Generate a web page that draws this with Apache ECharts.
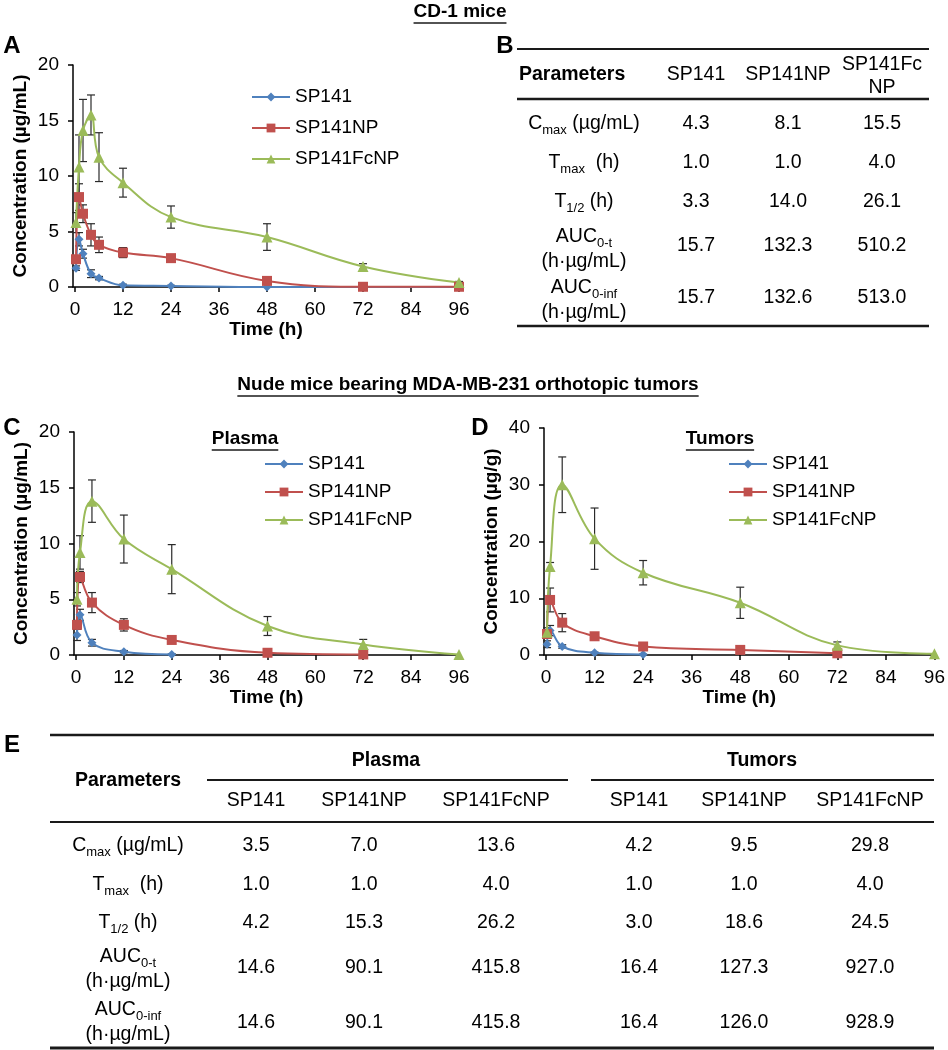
<!DOCTYPE html>
<html><head><meta charset="utf-8">
<script src="https://cdn.jsdelivr.net/npm/echarts@6/dist/echarts.min.js"></script>
<style>html,body{margin:0;padding:0;background:#fff}#c{width:948px;height:1050px}</style>
</head><body><div id="c"></div><script>
// ---------------- DATA ----------------
const seriesNames = ['SP141', 'SP141NP', 'SP141FcNP'];
const xTicks = [0, 12, 24, 36, 48, 60, 72, 84, 96];

// Panel A (CD-1 mice, plasma)
const timeA = [0.25, 1, 2, 4, 6, 12, 24, 48, 72, 96];
const a_sp141 = [1.7, 4.3, 3.0, 1.2, 0.8, 0.15, 0.1, 0, 0, 0];
const a_sp141Err = [0.2, 0.6, 0.4, 0.35, 0.15, 0.1, 0.05, 0, 0, 0];
const a_np = [2.5, 8.1, 6.6, 4.7, 3.8, 3.1, 2.6, 0.55, 0.02, 0.02];
const a_npErr = [0.3, 1.2, 0.8, 1.0, 0.7, 0.45, 0.3, 0.1, 0, 0];
const a_fc = [5.8, 10.8, 14.1, 15.5, 11.7, 9.4, 6.3, 4.5, 1.85, 0.4];
const a_fcErr = [0.9, 2.9, 2.8, 1.8, 2.2, 1.3, 1.0, 1.2, 0.25, 0.1];

// Panel C (nude mice, plasma)
const timeC = [0.25, 1, 4, 12, 24, 48, 72, 96];
const c_sp141 = [1.8, 3.6, 1.1, 0.3, 0.05, null, null, null];
const c_sp141Err = [0.5, 0.5, 0.3, 0.1, 0.05, 0, 0, 0];
const c_np = [2.7, 7.0, 4.7, 2.7, 1.35, 0.2, 0.05, null];
const c_npErr = [0.4, 0.5, 0.9, 0.55, 0.15, 0.1, 0.05, 0];
const c_fc = [5.0, 9.2, 13.8, 10.4, 7.7, 2.6, 0.95, 0.05];
const c_fcErr = [0.6, 1.5, 1.9, 2.15, 2.2, 0.85, 0.45, 0];

// Panel D (nude mice, tumors)
const timeD = [0.25, 1, 4, 12, 24, 48, 72, 96];
const d_sp141 = [1.9, 4.3, 1.5, 0.4, 0.1, null, null, null];
const d_sp141Err = [0.6, 0.9, 0.3, 0.1, 0.05, 0, 0, 0];
const d_np = [3.7, 9.7, 5.7, 3.3, 1.5, 0.9, 0.3, null];
const d_npErr = [0.6, 2.1, 1.6, 0.4, 0.3, 0.2, 0.1, 0];
const d_fc = [4.0, 15.6, 30.0, 20.5, 14.5, 9.2, 1.7, 0.2];
const d_fcErr = [0.8, 0.7, 4.9, 5.4, 2.15, 2.75, 0.6, 0];

// Table B (CD-1 mice)
const tableBHeader = ['SP141', 'SP141NP', 'SP141Fc\nNP'];
const tableParams = [
  '{n|C}{s|max}{n| (µg/mL)}',
  '{n|T}{s|max}{n|  (h)}',
  '{n|T}{s|1/2}{n| (h)}',
  '{n|AUC}{s|0-t}\n{n|(h·µg/mL)}',
  '{n|AUC}{s|0-inf}\n{n|(h·µg/mL)}'
];
const tableB = [
  [4.3, 8.1, 15.5],
  [1.0, 1.0, 4.0],
  [3.3, 14.0, 26.1],
  [15.7, 132.3, 510.2],
  [15.7, 132.6, 513.0]
];
// Table E (nude mice)
const tableEGroups = ['Plasma', 'Tumors'];
const tableEPlasma = [
  [3.5, 7.0, 13.6],
  [1.0, 1.0, 4.0],
  [4.2, 15.3, 26.2],
  [14.6, 90.1, 415.8],
  [14.6, 90.1, 415.8]
];
const tableETumors = [
  [4.2, 9.5, 29.8],
  [1.0, 1.0, 4.0],
  [3.0, 18.6, 24.5],
  [16.4, 127.3, 927.0],
  [16.4, 126.0, 928.9]
];

// ---------------- STYLE / LAYOUT ----------------
const FF = "'Liberation Sans', Arial, sans-serif";
const COLORS = ['#4F81BD', '#C0504D', '#9BBB59'];
const SYMBOLS = ['diamond', 'rect', 'triangle'];
const SYMSIZE = [9, 10, 11];
const FS = 19;
const TFS = 19.5;

function mkX(gi) {
  return {
    type: 'value', gridIndex: gi, min: -0.5, max: 96,
    name: 'Time (h)', nameLocation: 'middle', nameGap: 31,
    nameTextStyle: { fontSize: FS, fontWeight: 'bold', color: '#000', fontFamily: FF },
    axisLine: { show: true, onZero: false, lineStyle: { color: '#000', width: 1.5 } },
    axisTick: { show: true, customValues: xTicks, length: 5, lineStyle: { color: '#000', width: 1.5 } },
    axisLabel: { customValues: xTicks, fontSize: FS, color: '#000', margin: 13, fontFamily: FF },
    splitLine: { show: false }
  };
}
function mkY(gi, max, interval, name) {
  return {
    type: 'value', gridIndex: gi, min: 0, max: max, interval: interval,
    name: name, nameLocation: 'middle', nameGap: 43, nameRotate: 90,
    nameTextStyle: { fontSize: FS, fontWeight: 'bold', color: '#000', fontFamily: FF },
    axisLine: { show: true, onZero: false, lineStyle: { color: '#000', width: 1.5 } },
    axisTick: { show: true, length: 5, lineStyle: { color: '#000', width: 1.5 } },
    axisLabel: { fontSize: FS, color: '#000', margin: 14, fontFamily: FF },
    splitLine: { show: false }
  };
}
function lineSeries(k, times, vals, gi) {
  return {
    type: 'line', name: seriesNames[k], xAxisIndex: gi, yAxisIndex: gi,
    data: times.map((t, i) => vals[i] == null ? null : [t, vals[i]]).filter(Boolean),
    smooth: 0.4, symbol: SYMBOLS[k], symbolSize: SYMSIZE[k], showSymbol: true,
    lineStyle: { color: COLORS[k], width: 2 }, itemStyle: { color: COLORS[k] }, z: 3
  };
}
function errSeries(k, times, vals, errs, gi) {
  const data = times.map((t, i) => (vals[i] == null || !errs[i]) ? null : [t, Math.max(0, vals[i] - errs[i]), vals[i] + errs[i]]).filter(Boolean);
  return {
    type: 'custom', name: seriesNames[k] + '-err-' + gi, xAxisIndex: gi, yAxisIndex: gi, z: 2, silent: true,
    data: data, encode: { x: 0, y: [1, 2] },
    renderItem: function (params, api) {
      const x = api.value(0);
      const lo = api.coord([x, api.value(1)]);
      const hi = api.coord([x, api.value(2)]);
      const w = 4;
      const st = { stroke: '#2a2a2a', lineWidth: 1.2 };
      return { type: 'group', children: [
        { type: 'line', shape: { x1: lo[0], y1: lo[1], x2: hi[0], y2: hi[1] }, style: st },
        { type: 'line', shape: { x1: lo[0] - w, y1: lo[1], x2: lo[0] + w, y2: lo[1] }, style: st },
        { type: 'line', shape: { x1: hi[0] - w, y1: hi[1], x2: hi[0] + w, y2: hi[1] }, style: st }
      ] };
    }
  };
}
function mkLegend(left, top, gap) {
  return {
    data: seriesNames, left: left, top: top, orient: 'vertical',
    itemWidth: 38, itemHeight: 11, itemGap: gap, selectedMode: false,
    textStyle: { fontSize: FS, color: '#000', fontFamily: FF, lineHeight: 22 }
  };
}

// ---------------- GRAPHIC (titles + tables) ----------------
const g = [];
const measureCtx = document.createElement('canvas').getContext('2d');
function txt(x, y, text, o) {
  o = o || {};
  g.push({ type: 'text', x: x, y: y, silent: true, style: {
    text: text, fill: '#000', fontFamily: FF, fontSize: o.size || TFS, fontWeight: o.bold ? 'bold' : 'normal',
    align: o.align || 'center', verticalAlign: 'middle', lineHeight: o.lh || 23, rich: o.rich
  } });
}
function hline(x1, x2, y, w) {
  g.push({ type: 'line', silent: true, shape: { x1: x1, y1: y, x2: x2, y2: y }, style: { stroke: '#1a1a1a', lineWidth: w } });
}
function underlined(x, y, text, size) {
  txt(x, y, text, { bold: true, size: size });
  measureCtx.font = 'bold ' + size + 'px ' + FF;
  const w = measureCtx.measureText(text).width;
  hline(x - w / 2, x + w / 2, y + size * 0.58, 1.5);
}
const richParam = {
  n: { fontSize: TFS, fontFamily: FF, lineHeight: 22 },
  s: { fontSize: 13, fontFamily: FF, lineHeight: 13, padding: [13, 0, 0, 0] }
};
function paramLabel(x, ys, k) {
  const lines = tableParams[k].split('\n');
  lines.forEach((ln, j) => txt(x, ys[j], ln, { rich: richParam }));
}

// headings
underlined(460, 12, 'CD-1 mice', FS);
underlined(468, 385, 'Nude mice bearing MDA-MB-231 orthotopic tumors', FS);
underlined(245, 439, 'Plasma', FS);
underlined(720, 439, 'Tumors', FS);
txt(12, 46, 'A', { bold: true, size: 24 });
txt(505, 46, 'B', { bold: true, size: 24 });
txt(12, 428, 'C', { bold: true, size: 24 });
txt(480, 428, 'D', { bold: true, size: 24 });
txt(12, 745, 'E', { bold: true, size: 24 });

// Table B
const bCols = [696, 788, 882];
const bParamX = 584;
const bValY = [124, 163, 202, 246, 298];
const bLabY = [[124], [163], [202], [237, 262], [288, 313]];
hline(517, 929, 49, 2);
hline(517, 929, 99, 2.5);
hline(517, 929, 326, 2.5);
txt(519, 75, 'Parameters', { bold: true, align: 'left' });
tableBHeader.forEach((h, i) => txt(bCols[i], h.indexOf('\n') >= 0 ? 76.5 : 75, h));
tableB.forEach((row, r) => {
  paramLabel(bParamX, bLabY[r], r);
  row.forEach((v, i) => txt(bCols[i], bValY[r], v.toFixed(1)));
});

// Table E
const eCols = [256, 364, 496, 639, 744, 870];
const eParamX = 128;
const eValY = [846, 885, 923, 968, 1023];
const eLabY = [[846], [885], [923], [957, 982], [1010, 1035]];
hline(50, 934, 735, 2.5);
hline(207, 568, 780, 2);
hline(591, 934, 780, 2);
hline(50, 934, 822, 2);
hline(50, 934, 1048, 3);
txt(386, 761, tableEGroups[0], { bold: true });
txt(762, 761, tableEGroups[1], { bold: true });
txt(eParamX, 781, 'Parameters', { bold: true });
[0, 1].forEach(gi => seriesNames.forEach((n, i) => txt(eCols[gi * 3 + i], 801, n)));
tableEPlasma.forEach((row, r) => {
  paramLabel(eParamX, eLabY[r], r);
  row.forEach((v, i) => txt(eCols[i], eValY[r], v.toFixed(1)));
  tableETumors[r].forEach((v, i) => txt(eCols[3 + i], eValY[r], v.toFixed(1)));
});

// ---------------- CHART ----------------
const series = [];
const panels = [
  { gi: 0, t: timeA, v: [a_sp141, a_np, a_fc], e: [a_sp141Err, a_npErr, a_fcErr] },
  { gi: 1, t: timeC, v: [c_sp141, c_np, c_fc], e: [c_sp141Err, c_npErr, c_fcErr] },
  { gi: 2, t: timeD, v: [d_sp141, d_np, d_fc], e: [d_sp141Err, d_npErr, d_fcErr] }
];
panels.forEach(p => {
  [0, 1, 2].forEach(k => series.push(errSeries(k, p.t, p.v[k], p.e[k], p.gi)));
  [0, 1, 2].forEach(k => series.push(lineSeries(k, p.t, p.v[k], p.gi)));
});

const chart = echarts.init(document.getElementById('c'), null, { renderer: 'canvas' });
chart.setOption({
  animation: false,
  backgroundColor: '#fff',
  textStyle: { fontFamily: FF },
  grid: [
    { left: 73, top: 65, width: 386, height: 222 },
    { left: 74, top: 432, width: 385, height: 223 },
    { left: 544, top: 428, width: 392, height: 227 }
  ],
  xAxis: [mkX(0), mkX(1), mkX(2)],
  yAxis: [
    mkY(0, 20, 5, 'Concentration (µg/mL)'),
    mkY(1, 20, 5, 'Concentration (µg/mL)'),
    mkY(2, 40, 10, 'Concentration (µg/g)')
  ],
  legend: [mkLegend(246, 81, 9), mkLegend(259, 448, 6), mkLegend(723, 448, 6)],
  series: series,
  graphic: { elements: g }
});
</script></body></html>
